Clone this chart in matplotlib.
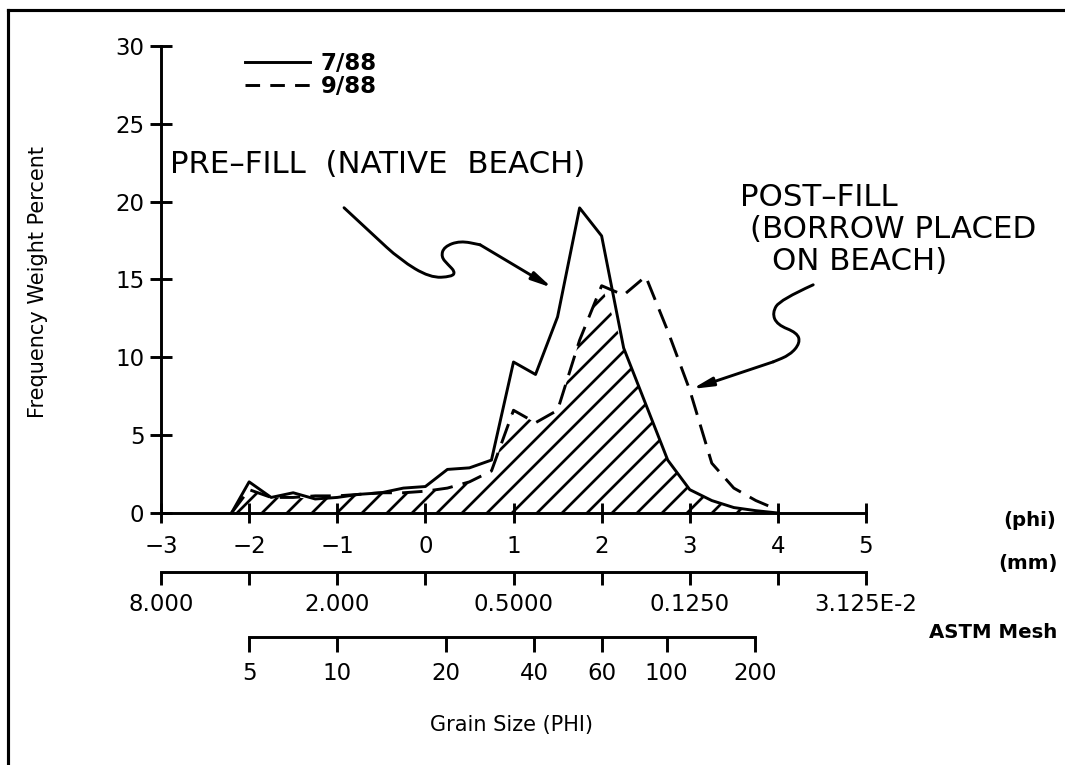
import numpy as np
import matplotlib.pyplot as plt
from matplotlib.path import Path
from matplotlib.patches import PathPatch
from matplotlib.lines import Line2D

plt.rcParams['font.family'] = ['DejaVu Sans']
plt.rcParams['hatch.linewidth'] = 1.3

# grain size classes (phi) and frequency weight percent
phi = [-2.2, -2.0, -1.75, -1.5, -1.25, -1.0, -0.75, -0.5, -0.25, 0.0,
       0.25, 0.5, 0.75, 1.0, 1.25, 1.5, 1.75, 2.0, 2.25, 2.5, 2.75, 3.0,
       3.25, 3.5, 3.75, 4.0]
pre_fill = [0.0, 2.0, 1.0, 1.3, 0.9, 1.0, 1.2, 1.3, 1.6, 1.7,
            2.8, 2.9, 3.4, 9.7, 8.9, 12.6, 19.6, 17.8, 10.6, 7.0, 3.4, 1.5,
            0.8, 0.35, 0.15, 0.0]
post_fill = [0.0, 1.5, 1.0, 1.0, 1.1, 1.1, 1.2, 1.3, 1.3, 1.4,
             1.6, 2.0, 2.7, 6.6, 5.8, 6.6, 11.1, 14.6, 14.0, 15.2, 11.7, 7.9,
             3.2, 1.6, 0.8, 0.2]
series_labels = ['7/88', '9/88']

mm_ticks = [8, 4, 2, 1, 0.5, 0.25, 0.125, 0.0625, 0.03125]
mm_labels = ['8.000', '', '2.000', '', '0.5000', '', '0.1250', '', '3.125E-2']
mesh_labels = ['5', '10', '20', '40', '60', '100', '200']
mesh_mm = [4.0, 2.0, 0.85, 0.425, 0.25, 0.15, 0.075]

W, H, DPI = 1065, 765, 150
LW = 1.4


def curl(points):
    # smooth path through the guide points (quadratic pieces)
    pts = np.array(points, dtype=float)
    verts = [pts[0]]
    codes = [Path.MOVETO]
    for i in range(1, len(pts) - 1):
        verts += [pts[i], (pts[i] + pts[i + 1]) / 2]
        codes += [Path.CURVE3, Path.CURVE3]
    verts.append(pts[-1])
    codes.append(Path.LINETO)
    return Path(verts, codes)


fig = plt.figure(figsize=(W / DPI, H / DPI), dpi=DPI)
ax = fig.add_axes([161 / W, 1 - 513 / H, 705 / W, 467 / H])

ax.fill_between(phi, 0, np.minimum(pre_fill, post_fill), facecolor='none',
                edgecolor='black', hatch='//', linewidth=0)
ax.plot(phi, pre_fill, color='black', lw=LW)
ax.plot(phi, post_fill, color='black', lw=LW, ls=(0, (7, 3.5)))

ax.set_xlim(-3, 5)
ax.set_ylim(0, 30)
ax.set_xticks(range(-3, 6))
ax.set_yticks(range(0, 31, 5))
ax.spines[['top', 'right']].set_visible(False)
ax.spines[['left', 'bottom']].set_linewidth(LW)
ax.tick_params(direction='inout', width=LW, labelsize=11)
ax.tick_params(axis='x', length=9.5, pad=6)
ax.tick_params(axis='y', length=11, pad=2.5)

# mm scale
mm_ax = ax.secondary_xaxis(-59 / 467)
mm_ax.set_ticks(-np.log2(mm_ticks), mm_labels)
mm_ax.tick_params(direction='out', length=6.2, width=LW, pad=4, labelsize=11)
mm_ax.spines['bottom'].set_linewidth(LW)

# ASTM mesh scale
mesh_pos = -np.log2(mesh_mm)
mesh_ax = ax.secondary_xaxis(-124 / 467)
mesh_ax.set_ticks(mesh_pos, mesh_labels)
mesh_ax.tick_params(direction='out', length=7.2, width=LW, pad=5, labelsize=11)
mesh_ax.spines['bottom'].set_linewidth(LW)
mesh_ax.spines['bottom'].set_bounds(mesh_pos[0], mesh_pos[-1])

# legend with shorter dashes so three of them fit the key
handles = [Line2D([], [], color='black', lw=LW),
           Line2D([], [], color='black', lw=LW, ls=(0, (5, 3.5)))]
ax.legend(handles, series_labels, loc='upper left',
          bbox_to_anchor=((245 - 161) / 705, (513 - 52) / 467),
          frameon=False, handlelength=2.85, handletextpad=0.45,
          labelspacing=0.0, borderpad=0, borderaxespad=0,
          prop={'weight': 'bold', 'size': 11})

# annotations
ax.text(-2.9, 22.4, 'PRE–FILL  (NATIVE  BEACH)', fontsize=14.8, va='center')
ax.text(3.57, 20.26, 'POST–FILL', fontsize=14.8, va='center')
ax.text(3.686, 18.2, '(BORROW PLACED', fontsize=14.8, va='center')
ax.text(3.935, 16.14, 'ON BEACH)', fontsize=14.8, va='center')

pre_curl = [(-0.923, 19.61), (-0.594, 17.88), (-0.287, 16.27), (0.053, 15.11),
            (0.303, 15.18), (0.337, 15.50), (0.258, 15.95), (0.178, 16.46),
            (0.212, 17.11), (0.394, 17.49), (0.621, 17.23)]
pre_tip = (1.438, 14.47)
post_curl = [(4.401, 14.66), (4.026, 13.70), (3.935, 12.86), (3.992, 12.09),
             (4.219, 11.58), (4.253, 10.93), (4.140, 10.16), (3.947, 9.71)]
post_tip = (3.027, 7.97)

for pts, tip in [(pre_curl, pre_tip), (post_curl, post_tip)]:
    ax.add_patch(PathPatch(curl(pts), facecolor='none', edgecolor='black',
                           lw=LW, capstyle='round', joinstyle='round'))
    ax.annotate('', xy=tip, xytext=pts[-1],
                arrowprops=dict(arrowstyle='-|>,head_length=0.8,head_width=0.17',
                                color='black', lw=LW, shrinkA=0, shrinkB=0,
                                mutation_scale=10))

# axis captions
fig.text(38 / W, 1 - 282 / H, 'Frequency Weight Percent', rotation=90,
         ha='center', va='center', fontsize=10)
fig.text(512 / W, 1 - 725 / H, 'Grain Size (PHI)', ha='center', va='center',
         fontsize=10)
fig.text(1030 / W, 1 - 520 / H, '(phi)', ha='center', va='center',
         fontsize=9.5, weight='bold')
fig.text(1028 / W, 1 - 563 / H, '(mm)', ha='center', va='center',
         fontsize=9.5, weight='bold')
fig.text(993 / W, 1 - 633 / H, 'ASTM Mesh', ha='center', va='center',
         fontsize=9.5, weight='bold')

# page frame (left and top edges)
fig.add_artist(Line2D([8 / W, 8 / W], [0, 1 - 10 / H], color='black', lw=1.5))
fig.add_artist(Line2D([8 / W, 1], [1 - 10 / H, 1 - 10 / H], color='black', lw=1.5))

fig.savefig('out.png', dpi=DPI)
